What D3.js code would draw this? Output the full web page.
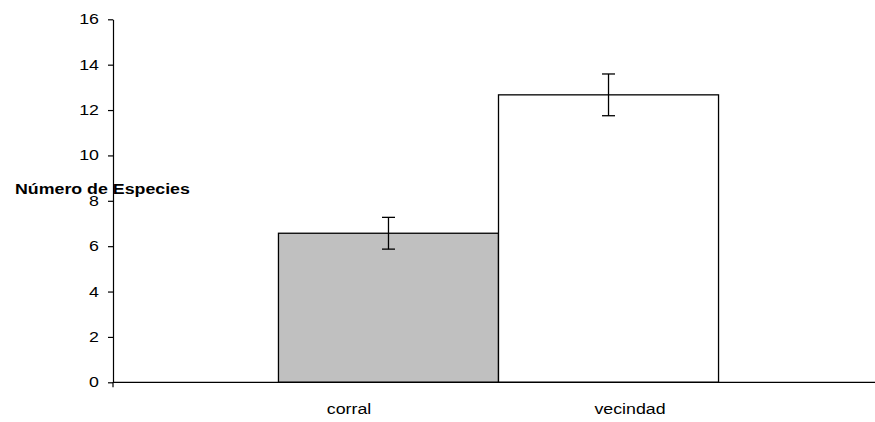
<!DOCTYPE html>
<html>
<head>
<meta charset="utf-8">
<script src="https://cdn.jsdelivr.net/npm/d3@7"></script>
<style>
  html, body { margin: 0; padding: 0; background: #fff; }
  svg { display: block; font-family: "Liberation Sans", Arial, sans-serif; }
</style>
</head>
<body>
<svg id="chart" width="875" height="422"></svg>
<script>
// Species richness by site, mean with error bars
const categories = ["corral", "vecindad"];
const means = [6.57, 12.67];
const errors = [0.70, 0.92];
const fills = ["#c0c0c0", "#ffffff"];
const yTicks = [0, 2, 4, 6, 8, 10, 12, 14, 16];
const yTitle = "Número de Especies";

// text is drawn slightly widened, as in the exported figure
const TEXT_STRETCH = 1.27;

const svg = d3.select("#chart");
const plot = { left: 113, right: 884, top: 19.3, bottom: 382.3 };

const y = d3.scaleLinear().domain([0, 16]).range([plot.bottom, plot.top]);
const x = d3.scaleBand().domain(categories)
  .range([plot.left, plot.right])
  .paddingInner(0).paddingOuter(0.752);
const xLabel = d3.scalePoint().domain(categories).range([349, 630]);

function stretchedText(sel, tx, ty) {
  return sel.attr("transform", `translate(${tx},${ty}) scale(${TEXT_STRETCH},1)`);
}

// bars
svg.append("g").selectAll("rect")
  .data(categories)
  .join("rect")
  .attr("x", d => x(d))
  .attr("y", (d, i) => y(means[i]))
  .attr("width", x.bandwidth())
  .attr("height", (d, i) => y(0) - y(means[i]))
  .attr("fill", (d, i) => fills[i])
  .attr("stroke", "#000")
  .attr("stroke-width", 1.3);

// error bars
const eb = svg.append("g").attr("stroke", "#000").attr("stroke-width", 1.3).attr("fill", "none");
categories.forEach((c, i) => {
  const cx = x(c) + x.bandwidth() / 2;
  const hi = y(means[i] + errors[i]), lo = y(means[i] - errors[i]);
  eb.append("line").attr("x1", cx).attr("x2", cx).attr("y1", hi).attr("y2", lo);
  eb.append("line").attr("x1", cx - 6.5).attr("x2", cx + 6.5).attr("y1", hi).attr("y2", hi);
  eb.append("line").attr("x1", cx - 6.5).attr("x2", cx + 6.5).attr("y1", lo).attr("y2", lo);
});

// y axis
const yAxis = d3.axisLeft(y).tickValues(yTicks).tickSize(5).tickPadding(9).tickSizeOuter(0);
const gy = svg.append("g").attr("transform", `translate(${plot.left},0)`).call(yAxis);
gy.select(".domain").attr("stroke", "#000").attr("stroke-width", 1.2);
gy.selectAll(".tick line").attr("stroke", "#000").attr("stroke-width", 1.2);
gy.selectAll(".tick text")
  .attr("font-size", 14).attr("fill", "#000")
  .attr("font-family", "Liberation Sans, Arial, sans-serif")
  .each(function () {
    const t = d3.select(this);
    const tx = +t.attr("x");
    t.attr("x", 0);
    stretchedText(t, tx, 0);
  });

// x axis baseline with end tick below
svg.append("line")
  .attr("x1", plot.left).attr("x2", plot.right)
  .attr("y1", y(0)).attr("y2", y(0))
  .attr("stroke", "#000").attr("stroke-width", 1.2);
svg.append("line")
  .attr("x1", plot.left).attr("x2", plot.left)
  .attr("y1", y(0)).attr("y2", y(0) + 5)
  .attr("stroke", "#000").attr("stroke-width", 1.2);

// category labels
svg.append("g").selectAll("text")
  .data(categories)
  .join("text")
  .attr("text-anchor", "middle")
  .attr("font-size", 14)
  .attr("fill", "#000")
  .text(d => d)
  .each(function (d) { stretchedText(d3.select(this), xLabel(d), 414); });

// y title
stretchedText(svg.append("text"), 15, 194)
  .attr("font-size", 14).attr("font-weight", "bold")
  .attr("fill", "#000")
  .text(yTitle);
</script>
</body>
</html>
